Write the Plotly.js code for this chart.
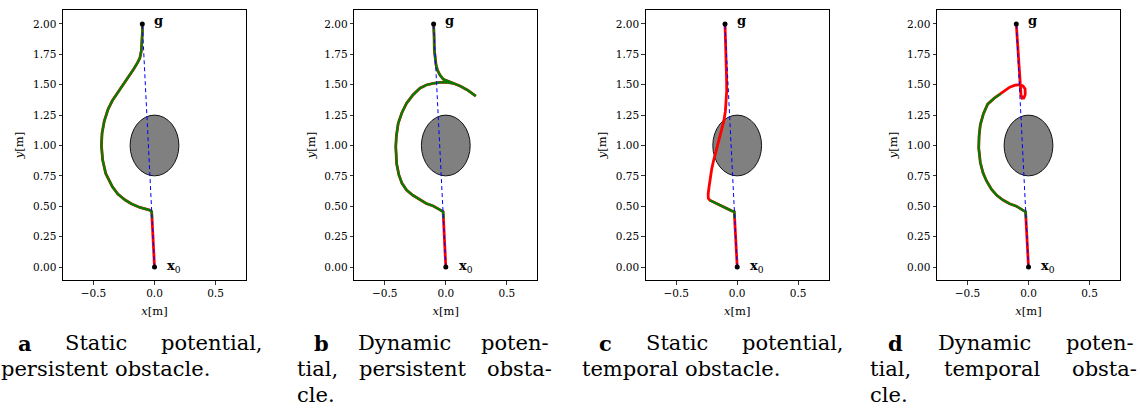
<!DOCTYPE html>
<html>
<head>
<meta charset="utf-8">
<script src="https://cdn.plot.ly/plotly-3.0.1.min.js"></script>
<style>
html,body{margin:0;padding:0;background:#fff;}
#chart{width:1140px;height:414px;}
</style>
</head>
<body>
<div id="chart"></div>
<script>
// ---------------- data ----------------
const startPoint = [0.0, 0.0];      // x0
const goalPoint  = [-0.1, 2.0];     // g
const obstacleCenter = [0.0, 1.0];
const obstacleRadii  = [0.2, 0.25];

const xTickVals = [-0.5, 0.0, 0.5];
const xTickText = ["\u22120.5", "0.0", "0.5"];
const yTickVals = [0, 0.25, 0.5, 0.75, 1.0, 1.25, 1.5, 1.75, 2.0];
const yTickText = ["0.00","0.25","0.50","0.75","1.00","1.25","1.50","1.75","2.00"];

// (a) static potential, persistent obstacle: full trajectory (red) and green part
const aPathX  = [0, -0.01, -0.02, -0.023, -0.04, -0.07, -0.12, -0.19, -0.24, -0.30, -0.345, -0.40, -0.425, -0.435, -0.43, -0.412, -0.38, -0.345, -0.29, -0.255, -0.21, -0.17, -0.14, -0.12, -0.108, -0.101, -0.099, -0.1];
const aPathY  = [0, 0.2, 0.40, 0.455, 0.468, 0.477, 0.49, 0.52, 0.551, 0.60, 0.66, 0.77, 0.88, 1.0, 1.10, 1.20, 1.30, 1.37, 1.45, 1.51, 1.575, 1.63, 1.68, 1.72, 1.78, 1.86, 1.94, 2.0];
const aGreenX = [-0.02, -0.023, -0.04, -0.07, -0.12, -0.19, -0.24, -0.30, -0.345, -0.40, -0.425, -0.435, -0.43, -0.412, -0.38, -0.345, -0.29, -0.255, -0.21, -0.17, -0.14, -0.12, -0.108, -0.101, -0.099, -0.1];
const aGreenY = [0.40, 0.455, 0.468, 0.477, 0.49, 0.52, 0.551, 0.60, 0.66, 0.77, 0.88, 1.0, 1.10, 1.20, 1.30, 1.37, 1.45, 1.51, 1.575, 1.63, 1.68, 1.72, 1.78, 1.86, 1.94, 2.0];

// (b) dynamic potential, persistent obstacle
const bPathX  = [0, -0.01, -0.018, -0.022, -0.05, -0.103, -0.16, -0.21, -0.27, -0.322, -0.36, -0.385, -0.403, -0.41, -0.405, -0.39, -0.36, -0.322, -0.27, -0.212, -0.16, -0.103, -0.05, 0.007, 0.06, 0.117, 0.18, 0.246, 0.18, 0.117, 0.06, 0.02, -0.02, -0.048, -0.068, -0.08, -0.088, -0.094, -0.096, -0.1];
const bPathY  = [0, 0.2, 0.40, 0.455, 0.472, 0.502, 0.523, 0.551, 0.59, 0.634, 0.69, 0.76, 0.85, 0.99, 1.08, 1.183, 1.27, 1.347, 1.415, 1.471, 1.498, 1.512, 1.52, 1.522, 1.512, 1.49, 1.455, 1.407, 1.455, 1.49, 1.512, 1.527, 1.545, 1.58, 1.62, 1.663, 1.72, 1.786, 1.9, 2.0];
const bGreenX = [-0.018, -0.022, -0.05, -0.103, -0.16, -0.21, -0.27, -0.322, -0.36, -0.385, -0.403, -0.41, -0.405, -0.39, -0.36, -0.322, -0.27, -0.212, -0.16, -0.103, -0.05, 0.007, 0.06, 0.117, 0.18, 0.246, 0.18, 0.117, 0.06, 0.02, -0.02, -0.048, -0.068, -0.08, -0.088, -0.094, -0.096, -0.1];
const bGreenY = [0.40, 0.455, 0.472, 0.502, 0.523, 0.551, 0.59, 0.634, 0.69, 0.76, 0.85, 0.99, 1.08, 1.183, 1.27, 1.347, 1.415, 1.471, 1.498, 1.512, 1.52, 1.522, 1.512, 1.49, 1.455, 1.407, 1.455, 1.49, 1.512, 1.527, 1.545, 1.58, 1.62, 1.663, 1.72, 1.786, 1.9, 2.0];

// (c) static potential, temporal obstacle
const cPathX  = [0, -0.01, -0.02, -0.024, -0.045, -0.114, -0.197, -0.225, -0.237, -0.238, -0.232, -0.224, -0.21, -0.195, -0.175, -0.155, -0.13, -0.11, -0.097, -0.09, -0.086, -0.087, -0.09, -0.093, -0.097, -0.1];
const cPathY  = [0, 0.2, 0.40, 0.455, 0.462, 0.496, 0.537, 0.55, 0.565, 0.60, 0.65, 0.72, 0.80, 0.87, 0.95, 1.02, 1.12, 1.20, 1.28, 1.36, 1.45, 1.55, 1.70, 1.80, 1.90, 2.0];
const cGreenX = [-0.02, -0.024, -0.045, -0.114, -0.197, -0.225];
const cGreenY = [0.40, 0.455, 0.462, 0.496, 0.537, 0.55];

// (d) dynamic potential, temporal obstacle
const dPathX  = [0, -0.01, -0.02, -0.024, -0.05, -0.099, -0.155, -0.209, -0.26, -0.304, -0.345, -0.373, -0.395, -0.408, -0.405, -0.395, -0.37, -0.335, -0.28, -0.228, -0.19, -0.154, -0.11, -0.075, -0.045, -0.028, -0.027, -0.038, -0.053, -0.062, -0.065, -0.07, -0.077, -0.085, -0.093, -0.1];
const dPathY  = [0, 0.2, 0.40, 0.455, 0.47, 0.50, 0.52, 0.551, 0.59, 0.64, 0.71, 0.775, 0.86, 0.98, 1.08, 1.17, 1.26, 1.34, 1.39, 1.425, 1.455, 1.48, 1.496, 1.50, 1.49, 1.465, 1.42, 1.392, 1.39, 1.42, 1.47, 1.55, 1.65, 1.75, 1.85, 2.0];
const dGreenX = [-0.02, -0.024, -0.05, -0.099, -0.155, -0.209, -0.26, -0.304, -0.345, -0.373, -0.395, -0.408, -0.405, -0.395, -0.37, -0.335, -0.28, -0.228];
const dGreenY = [0.40, 0.455, 0.47, 0.50, 0.52, 0.551, 0.59, 0.64, 0.71, 0.775, 0.86, 0.98, 1.08, 1.17, 1.26, 1.34, 1.39, 1.425];

const panels = [
  {px: aPathX, py: aPathY, gx: aGreenX, gy: aGreenY},
  {px: bPathX, py: bPathY, gx: bGreenX, gy: bGreenY},
  {px: cPathX, py: cPathY, gx: cGreenX, gy: cGreenY},
  {px: dPathX, py: dPathY, gx: dGreenX, gy: dGreenY}
];

// caption lines: words, and [left, right] pixel extent (right = null: ragged last line)
const captionLines = [
  [{w: ["a", "Static", "potential,"], l: 17, r: 262, bold0: true},
   {w: ["persistent", "obstacle."], l: 0, r: null}],
  [{w: ["b", "Dynamic", "poten-"], l: 313, r: 548, bold0: true},
   {w: ["tial,", "persistent", "obsta-"], l: 296, r: 551},
   {w: ["cle."], l: 296, r: null}],
  [{w: ["c", "Static", "potential,"], l: 598, r: 843, bold0: true},
   {w: ["temporal", "obstacle."], l: 581, r: null}],
  [{w: ["d", "Dynamic", "poten-"], l: 887, r: 1133, bold0: true},
   {w: ["tial,", "temporal", "obsta-"], l: 869, r: 1136},
   {w: ["cle."], l: 869, r: null}]
];

// ---------------- layout geometry ----------------
const W = 1140, H = 414;
const boxLeft = [63, 354.3, 645.7, 937];
const boxW = 183;
const boxTop = 10, boxBottom = 280;
const lineCenters = [343, 369, 395];
const CAP_SIZE = 21;

const SERIF = "DejaVu Serif";
const measureCtx = document.createElement("canvas").getContext("2d");
function textWidth(t, bold) {
  measureCtx.font = (bold ? "bold " : "") + CAP_SIZE + "px '" + SERIF + "'";
  return measureCtx.measureText(t).width;
}

const traces = [];
const layout = {
  width: W, height: H,
  margin: {l:0, r:0, t:0, b:0},
  paper_bgcolor: "#fff", plot_bgcolor: "#fff",
  showlegend: false,
  font: {family: SERIF, color: "#000"},
  shapes: [], annotations: []
};

panels.forEach((p, i) => {
  const n = i + 1;
  const xa = n === 1 ? "x" : "x" + n;
  const ya = n === 1 ? "y" : "y" + n;
  traces.push({x: p.px, y: p.py, xaxis: xa, yaxis: ya, mode: "lines",
    line: {color: "#ff0000", width: 2.8}, hoverinfo: "skip"});
  traces.push({x: p.gx, y: p.gy, xaxis: xa, yaxis: ya, mode: "lines",
    line: {color: "#008000", width: 2.3}, hoverinfo: "skip"});
  traces.push({x: [startPoint[0], goalPoint[0]], y: [startPoint[1], goalPoint[1]], xaxis: xa, yaxis: ya,
    mode: "lines", line: {color: "#0000ff", width: 1, dash: "4px,3px"}, hoverinfo: "skip"});
  traces.push({x: [startPoint[0], goalPoint[0]], y: [startPoint[1], goalPoint[1]], xaxis: xa, yaxis: ya,
    mode: "markers", marker: {color: "#000", size: 5}, hoverinfo: "skip"});

  const axCommon = {showgrid: false, zeroline: false, showline: true, mirror: true,
    linecolor: "#000", linewidth: 1, ticks: "outside", ticklen: 3.5, tickwidth: 0.8, tickcolor: "#000",
    tickfont: {family: SERIF, size: 10.5, color: "#000"}, fixedrange: true};
  layout["xaxis" + (n === 1 ? "" : n)] = Object.assign({}, axCommon, {
    domain: [boxLeft[i] / W, (boxLeft[i] + boxW) / W], anchor: ya,
    range: [-0.75, 0.75], tickmode: "array", tickvals: xTickVals, ticktext: xTickText,
    title: {text: "<i>x</i>[m]", font: {family: SERIF, size: 11.5, color: "#000"}, standoff: 8}
  });
  layout["yaxis" + (n === 1 ? "" : n)] = Object.assign({}, axCommon, {
    domain: [1 - boxBottom / H, 1 - boxTop / H], anchor: xa,
    range: [-0.107, 2.115], tickmode: "array", tickvals: yTickVals, ticktext: yTickText,
    title: {text: "<i>y</i>[m]", font: {family: SERIF, size: 11.5, color: "#000"}, standoff: 6}
  });

  layout.shapes.push({type: "circle", xref: xa, yref: ya, layer: "below",
    x0: obstacleCenter[0] - obstacleRadii[0], x1: obstacleCenter[0] + obstacleRadii[0],
    y0: obstacleCenter[1] - obstacleRadii[1], y1: obstacleCenter[1] + obstacleRadii[1],
    fillcolor: "#808080", line: {color: "#000", width: 0.9}});

  layout.annotations.push({xref: xa, yref: ya, x: goalPoint[0] + 0.08, y: goalPoint[1], text: "<b>g</b>",
    showarrow: false, xanchor: "left", yanchor: "middle", yshift: 3,
    font: {family: SERIF, size: 13, color: "#000"}});
  layout.annotations.push({xref: xa, yref: ya, x: startPoint[0] + 0.09, y: startPoint[1], text: "<b>x</b><sub>0</sub>",
    showarrow: false, xanchor: "left", yanchor: "middle", yshift: 1,
    font: {family: SERIF, size: 13, color: "#000"}});

  // captions (justified lines)
  captionLines[i].forEach((line, li) => {
    const widths = line.w.map((t, k) => textWidth(t, line.bold0 && k === 0));
    const spaceW = textWidth(" ", false);
    let gap = spaceW;
    if (line.r !== null && line.w.length > 1) {
      const total = widths.reduce((s, v) => s + v, 0);
      gap = (line.r - line.l - total) / (line.w.length - 1);
    }
    let xpos = line.l;
    line.w.forEach((t, k) => {
      const txt = (line.bold0 && k === 0) ? "<b>" + t + "</b>" : t;
      layout.annotations.push({xref: "paper", yref: "paper", x: xpos / W, y: 1 - lineCenters[li] / H,
        text: txt, showarrow: false, xanchor: "left", yanchor: "middle", borderpad: 0,
        font: {family: SERIF, size: CAP_SIZE, color: "#000"}});
      xpos += widths[k] + gap;
    });
  });
});

Plotly.newPlot("chart", traces, layout, {staticPlot: true, displayModeBar: false});
</script>
</body>
</html>
